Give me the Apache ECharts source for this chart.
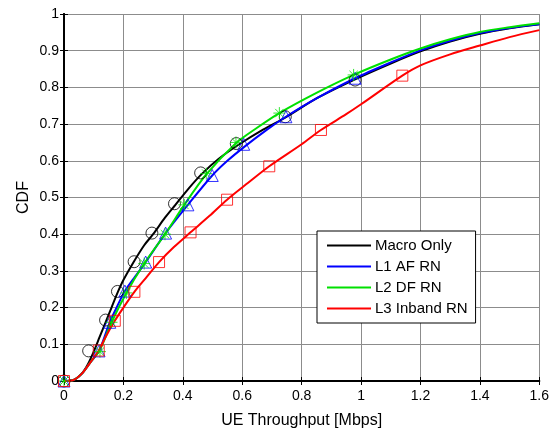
<!DOCTYPE html>
<html>
<head>
<meta charset="utf-8">
<script src="https://cdn.jsdelivr.net/npm/echarts@6/dist/echarts.min.js"></script>
<style>html,body{margin:0;padding:0;background:#fff}#c{width:552px;height:434px}</style>
</head>
<body>
<div id="c"></div>
<script>
const seriesNames = ['Macro Only', 'L1 AF RN', 'L2 DF RN', 'L3 Inband RN'];
const xTicks = [0, 0.2, 0.4, 0.6, 0.8, 1, 1.2, 1.4, 1.6];
const yTicks = [0, 0.1, 0.2, 0.3, 0.4, 0.5, 0.6, 0.7, 0.8, 0.9, 1];

// curves [throughput, cdf]
const macroCurve = [[0,0],[0.03,0.002],[0.06,0.02],[0.08,0.045],[0.1,0.08],[0.12,0.12],[0.14,0.16],[0.16,0.2],[0.18,0.24],[0.2,0.275],[0.235,0.325],[0.27,0.37],[0.3,0.4],[0.34,0.445],[0.375,0.48],[0.42,0.525],[0.465,0.565],[0.52,0.605],[0.59,0.645],[0.67,0.685],[0.75,0.72],[0.85,0.77],[0.98,0.822],[1.1,0.865],[1.2,0.898],[1.3,0.925],[1.4,0.946],[1.5,0.961],[1.6,0.972]];
const afCurve = [[0,0],[0.03,0.002],[0.06,0.02],[0.09,0.052],[0.118,0.082],[0.154,0.16],[0.18,0.205],[0.205,0.245],[0.24,0.285],[0.275,0.324],[0.342,0.403],[0.417,0.48],[0.499,0.56],[0.55,0.6],[0.61,0.64],[0.68,0.683],[0.747,0.72],[0.85,0.77],[0.98,0.825],[1.1,0.868],[1.2,0.901],[1.3,0.927],[1.4,0.948],[1.5,0.962],[1.6,0.972]];
const dfCurve = [[0,0],[0.03,0.002],[0.06,0.02],[0.09,0.052],[0.121,0.085],[0.16,0.16],[0.21,0.24],[0.27,0.32],[0.34,0.4],[0.405,0.48],[0.479,0.563],[0.579,0.648],[0.65,0.69],[0.725,0.73],[0.85,0.785],[0.975,0.834],[1.1,0.876],[1.2,0.906],[1.3,0.931],[1.4,0.951],[1.5,0.964],[1.6,0.975]];
const inbandCurve = [[0,0],[0.03,0.002],[0.06,0.02],[0.09,0.052],[0.117,0.083],[0.14,0.12],[0.171,0.164],[0.2,0.2],[0.237,0.243],[0.28,0.285],[0.32,0.324],[0.37,0.365],[0.426,0.405],[0.49,0.45],[0.549,0.494],[0.62,0.54],[0.691,0.585],[0.8,0.645],[0.865,0.684],[0.95,0.727],[1.0,0.754],[1.139,0.832],[1.2,0.86],[1.3,0.89],[1.4,0.914],[1.5,0.937],[1.6,0.956]];

// marker positions
const macroMarks = [[0,0],[0.083,0.082],[0.14,0.166],[0.18,0.244],[0.236,0.325],[0.296,0.403],[0.372,0.483],[0.46,0.567],[0.58,0.647],[0.745,0.72],[0.98,0.82]];
const afMarks = [[0,0],[0.118,0.082],[0.154,0.16],[0.205,0.245],[0.275,0.324],[0.342,0.403],[0.417,0.48],[0.499,0.56],[0.605,0.645],[0.747,0.72],[0.98,0.825]];
const dfMarks = [[0,0],[0.121,0.08],[0.16,0.16],[0.21,0.24],[0.27,0.32],[0.34,0.4],[0.405,0.48],[0.479,0.565],[0.579,0.65],[0.725,0.73],[0.975,0.834]];
const inbandMarks = [[0,0],[0.117,0.083],[0.171,0.164],[0.237,0.243],[0.32,0.324],[0.426,0.405],[0.549,0.494],[0.691,0.585],[0.865,0.684],[1.139,0.832]];

const colors = ['#000000', '#0000ff', '#00e000', '#ff0000'];
const curves = [macroCurve, afCurve, dfCurve, inbandCurve];
const marks = [macroMarks, afMarks, dfMarks, inbandMarks];
const star = 'path://M5 0 L5 10 M0 5 L10 5 M1.5 1.5 L8.5 8.5 M1.5 8.5 L8.5 1.5';
const symbols = ['circle', 'triangle', star, 'rect'];
const symSizes = [12, 12, 12, 11];

const font = 'Liberation Sans, Arial, sans-serif';
const chart = echarts.init(document.getElementById('c'));

const series = [];
curves.forEach((c, i) => {
  series.push({
    name: seriesNames[i], type: 'line', data: c, symbol: 'none', smooth: 0.3,
    lineStyle: { color: colors[i], width: 2 }, itemStyle: { color: colors[i] },
    z: 2 + i
  });
});
marks.forEach((m, i) => {
  series.push({
    name: seriesNames[i] + ' markers', type: 'scatter', data: m,
    symbol: symbols[i], symbolSize: symSizes[i],
    itemStyle: { color: i === 2 ? colors[i] : 'rgba(0,0,0,0)', borderColor: colors[i], borderWidth: 1 },
    z: 10 + i, silent: true
  });
});

const hiddenAxisCommon = {
  axisLine: { show: true, lineStyle: { color: '#000', width: 2 } },
  axisTick: { show: true, inside: true, length: 4, lineStyle: { color: '#000' } },
  axisLabel: { show: false }, splitLine: { show: false }
};

chart.setOption({
  animation: false,
  backgroundColor: '#fff',
  grid: { left: 64, top: 14, width: 477, height: 375 },
  legend: {
    data: seriesNames, orient: 'vertical', left: 317, top: 231,
    backgroundColor: '#fff', borderColor: '#000', borderWidth: 1,
    padding: [7, 8, 7, 10], itemGap: 6, itemWidth: 44, itemHeight: 2, icon: 'rect',
    textStyle: { fontFamily: font, fontSize: 15, color: '#000', padding: [0, 0, 0, -1] }
  },
  xAxis: [{
    type: 'value', min: 0, max: 1.6, interval: 0.2,
    name: 'UE Throughput [Mbps]', nameLocation: 'middle', nameGap: 32, nameMoveOverlap: false,
    nameTextStyle: { fontFamily: font, fontSize: 16, color: '#000' },
    axisLine: { show: true, onZero: false, lineStyle: { color: '#000', width: 2 } },
    axisTick: { show: true, inside: true, length: 4, lineStyle: { color: '#000' } },
    axisLabel: { fontFamily: font, fontSize: 14, color: '#000', margin: 8,
      formatter: v => (xTicks.includes(+v.toFixed(1)) ? String(+v.toFixed(1)) : '') },
    splitLine: { show: true, lineStyle: { color: '#8c8c8c', width: 1 } }
  }, Object.assign({ type: 'value', position: 'top', min: 0, max: 1.6, interval: 0.2 }, hiddenAxisCommon)],
  yAxis: [{
    type: 'value', min: 0, max: 1, interval: 0.1,
    name: 'CDF', nameLocation: 'middle', nameGap: 32, nameMoveOverlap: false,
    nameTextStyle: { fontFamily: font, fontSize: 16, color: '#000' },
    axisLine: { show: true, onZero: false, lineStyle: { color: '#000', width: 2 } },
    axisTick: { show: true, inside: true, length: 4, lineStyle: { color: '#000' } },
    axisLabel: { fontFamily: font, fontSize: 14, color: '#000', margin: 5,
      formatter: v => (yTicks.includes(+v.toFixed(1)) ? String(+v.toFixed(1)) : '') },
    splitLine: { show: true, lineStyle: { color: '#8c8c8c', width: 1 } }
  }, Object.assign({ type: 'value', position: 'right', min: 0, max: 1, interval: 0.1 }, hiddenAxisCommon)],
  series: series
});
</script>
</body>
</html>
